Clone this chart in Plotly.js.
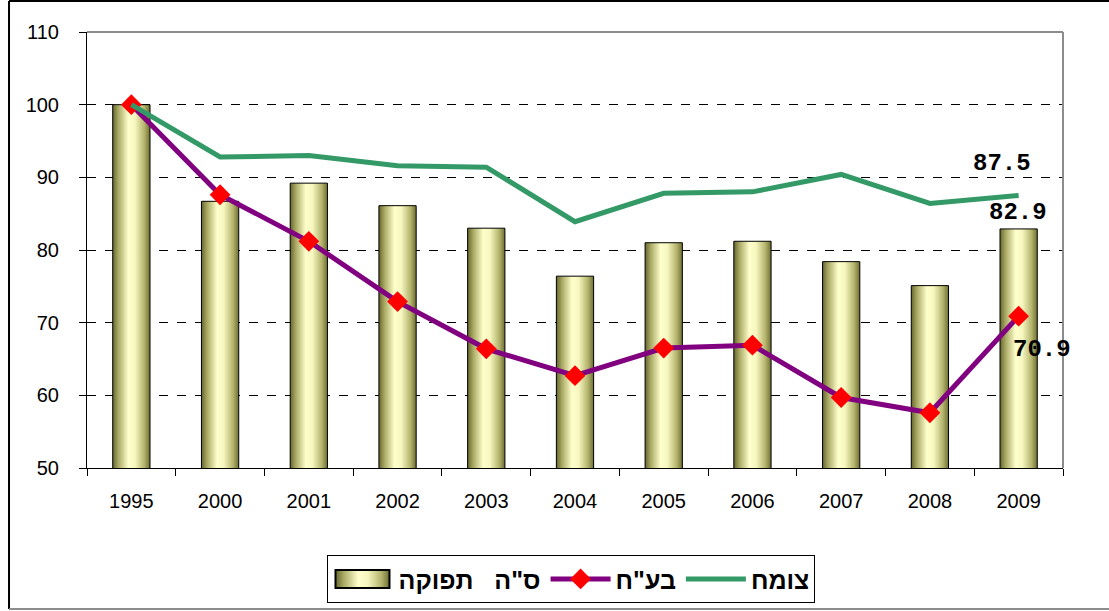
<!DOCTYPE html>
<html>
<head>
<meta charset="utf-8">
<script src="https://cdn.plot.ly/plotly-3.0.1.min.js"></script>
<style>
  html, body { margin: 0; padding: 0; background: #fff; }
  #chart { width: 1109px; height: 611px; }
</style>
</head>
<body>
<div id="chart"></div>
<script>
const years = ['1995', '2000', '2001', '2002', '2003', '2004', '2005', '2006', '2007', '2008', '2009'];
const totalOutput = [100, 86.7, 89.2, 86.1, 83.0, 76.4, 81.0, 81.2, 78.4, 75.1, 82.9];
const livestock = [100, 87.6, 81.2, 72.9, 66.4, 62.7, 66.5, 66.9, 59.7, 57.6, 70.9];
const crops = [100, 92.8, 93.0, 91.6, 91.4, 83.9, 87.8, 88.0, 90.4, 86.4, 87.5];

const names = ['ס"ה\u00a0\u00a0 תפוקה', 'בע"ח', 'צומח'];

// category axes place annotations by index, not by label
const last = years.length - 1;
const labelFont = { family: 'Liberation Mono, Courier New, monospace', size: 24, color: '#000', weight: 'bold' };

const traces = [
  {
    type: 'bar',
    name: names[0],
    x: years,
    y: totalOutput,
    width: 0.42,
    marker: { color: '#e8e8a8', line: { color: '#000', width: 1 } },
    hoverinfo: 'skip'
  },
  {
    type: 'scatter',
    mode: 'lines+markers',
    name: names[1],
    x: years,
    y: livestock,
    line: { color: '#800080', width: 5 },
    marker: { symbol: 'diamond', size: 16, color: '#ff0000', line: { width: 0 } },
    hoverinfo: 'skip'
  },
  {
    type: 'scatter',
    mode: 'lines',
    name: names[2],
    x: years,
    y: crops,
    line: { color: '#339966', width: 5 },
    hoverinfo: 'skip'
  }
];

const annotations = [
  { x: last, y: crops[last], text: crops[last].toFixed(1), xshift: -17, yshift: 32 },
  { x: last, y: totalOutput[last], text: totalOutput[last].toFixed(1), xshift: -1, yshift: 16 },
  { x: last, y: livestock[last], text: livestock[last].toFixed(1), xshift: 23, yshift: -33 }
].map((a) => ({ ...a, showarrow: false, font: labelFont, xref: 'x', yref: 'y' }));

const frame = { type: 'line', xref: 'paper', yref: 'paper', layer: 'above' };

const layout = {
  width: 1109,
  height: 611,
  margin: { l: 87, r: 46, t: 32, b: 143, autoexpand: false },
  paper_bgcolor: '#fff',
  plot_bgcolor: '#fff',
  font: { family: 'Liberation Sans, Arial, sans-serif', size: 20, color: '#000' },
  barmode: 'overlay',
  showlegend: true,
  legend: {
    orientation: 'h',
    x: 0.4964,
    xanchor: 'center',
    y: -0.2,
    yanchor: 'top',
    bgcolor: '#fff',
    bordercolor: '#000',
    borderwidth: 1,
    itemwidth: 60,
    font: { family: 'Liberation Sans, Arial, sans-serif', size: 25, color: '#000', weight: 'bold' }
  },
  xaxis: {
    type: 'category',
    range: [-0.5, last + 0.5],
    tickson: 'boundaries',
    ticks: 'outside',
    ticklen: 7,
    tickcolor: '#000',
    tickangle: 0,
    ticklabelstandoff: 15,
    showline: true,
    linecolor: '#000',
    linewidth: 1,
    showgrid: false,
    tickfont: { size: 20 },
    fixedrange: true
  },
  yaxis: {
    range: [50, 110],
    dtick: 10,
    ticks: 'outside',
    ticklen: 7,
    tickcolor: '#000',
    ticklabelstandoff: 16,
    showline: true,
    linecolor: '#000',
    linewidth: 1,
    showgrid: true,
    gridcolor: '#000',
    gridwidth: 1,
    griddash: 'dash',
    zeroline: false,
    tickfont: { size: 20 },
    fixedrange: true
  },
  annotations: annotations,
  shapes: [
    // plot area border, top and right in gray
    { ...frame, x0: 0, x1: 1, y0: 1, y1: 1, line: { color: '#8c8c8c', width: 2 } },
    { ...frame, x0: 1, x1: 1, y0: 0, y1: 1, line: { color: '#8c8c8c', width: 2 } },
    // outer chart frame
    { ...frame, x0: -0.0799, x1: -0.0799, y0: -0.3234, y1: 1.0711, line: { color: '#000', width: 2 } },
    { ...frame, x0: -0.0799, x1: 1.06, y0: 1.0711, y1: 1.0711, line: { color: '#000', width: 2 } },
    { ...frame, x0: -0.0799, x1: 1.06, y0: -0.3234, y1: -0.3234, line: { color: '#8c8c8c', width: 2 } }
  ]
};

function addBarGradient(gd) {
  const svgNS = 'http://www.w3.org/2000/svg';
  const svg = gd.querySelector('.main-svg');
  let defs = svg.querySelector('defs');
  if (!defs) {
    defs = document.createElementNS(svgNS, 'defs');
    svg.insertBefore(defs, svg.firstChild);
  }
  const grad = document.createElementNS(svgNS, 'linearGradient');
  grad.setAttribute('id', 'barGrad');
  grad.setAttribute('x1', '0');
  grad.setAttribute('x2', '1');
  grad.setAttribute('y1', '0');
  grad.setAttribute('y2', '0');
  const stops = [
    [0, '#66662e'], [0.15, '#a9a964'], [0.42, '#ffffcc'],
    [0.6, '#f6f6bf'], [0.85, '#b3b36c'], [1, '#6e6e33']
  ];
  stops.forEach(([off, col]) => {
    const s = document.createElementNS(svgNS, 'stop');
    s.setAttribute('offset', off);
    s.setAttribute('stop-color', col);
    grad.appendChild(s);
  });
  defs.appendChild(grad);

  gd.querySelectorAll('.barlayer .point path').forEach((p) => {
    p.style.fill = 'url(#barGrad)';
  });

  // wider bar symbol in the legend, placed just before its text (screen coords)
  const legendTraces = gd.querySelectorAll('.legend .traces');
  if (legendTraces.length) {
    const first = legendTraces[0];
    const txt = first.querySelector('text.legendtext');
    first.querySelectorAll('.legendpoints path').forEach((p) => {
      p.setAttribute('d', 'M0,-9h54v18h-54z');
      p.style.fill = 'url(#barGrad)';
      p.style.stroke = '#000';
      p.style.strokeWidth = '2px';
      if (txt) {
        const pl = p.getBoundingClientRect().left + 1;
        const tl = txt.getBoundingClientRect().left;
        const off = tl - 62 - pl;
        p.setAttribute('d', `M${off},-9h54v18h-54z`);
      }
    });
  }
}

Plotly.newPlot('chart', traces, layout, { staticPlot: true, displayModeBar: false })
  .then(addBarGradient);
</script>
</body>
</html>
